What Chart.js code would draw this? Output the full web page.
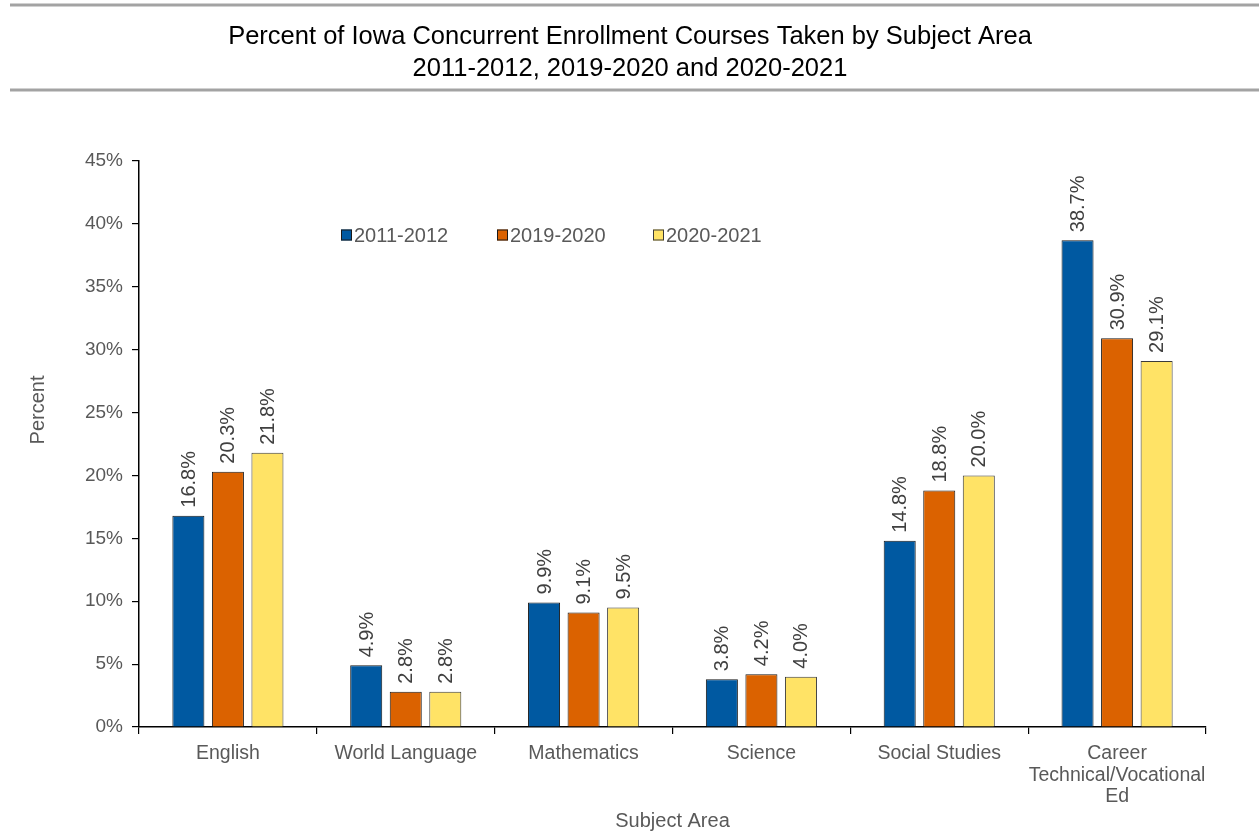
<!DOCTYPE html>
<html>
<head>
<meta charset="utf-8">
<script src="https://cdn.jsdelivr.net/npm/chart.js@4/dist/chart.umd.min.js"></script>
<style>
  html, body { margin: 0; padding: 0; background: #ffffff; }
  #wrap { width: 1259px; height: 835px; }
</style>
</head>
<body>
<div id="wrap"><canvas id="c" width="1259" height="835"></canvas></div>
<script>
const categories = ["English", "World Language", "Mathematics", "Science", "Social Studies", ["Career", "Technical/Vocational", "Ed"]];
const seriesNames = ["2011-2012", "2019-2020", "2020-2021"];
const values2011 = [16.8, 4.9, 9.9, 3.8, 14.8, 38.7];
const values2019 = [20.3, 2.8, 9.1, 4.2, 18.8, 30.9];
const values2020 = [21.8, 2.8, 9.5, 4.0, 20.0, 29.1];
const titleLines = ["Percent of Iowa Concurrent Enrollment Courses Taken by Subject Area", "2011-2012, 2019-2020 and 2020-2021"];
const yAxisTitle = "Percent";
const xAxisTitle = "Subject Area";

const FONT = '"Liberation Sans", Arial, Helvetica, sans-serif';
const colors = ["#0059A1", "#DB6200", "#FFE366"];
const borders = ["#1a1a1a", "#1a1a1a", "#3a3a3a"];

const decorPlugin = {
  id: 'decor',
  afterDatasetsDraw(chart) {
    const ctx = chart.ctx;
    ctx.save();
    ctx.fillStyle = '#404040';
    ctx.font = '20px ' + FONT;
    ctx.textAlign = 'left';
    ctx.textBaseline = 'middle';
    chart.data.datasets.forEach((ds, di) => {
      const meta = chart.getDatasetMeta(di);
      meta.data.forEach((bar, i) => {
        const txt = ds.data[i].toFixed(1) + '%';
        ctx.save();
        ctx.translate(bar.x + 1, bar.y - 8);
        ctx.rotate(-Math.PI / 2);
        ctx.fillText(txt, 0, 0);
        ctx.restore();
      });
    });
    ctx.restore();
  },
  afterDraw(chart) {
    const ctx = chart.ctx;
    const area = chart.chartArea;
    ctx.save();
    // top rules
    ctx.strokeStyle = '#a3a3a3';
    ctx.lineWidth = 3;
    ctx.beginPath();
    ctx.moveTo(10, 5); ctx.lineTo(1259, 5);
    ctx.moveTo(10, 90); ctx.lineTo(1259, 90);
    ctx.stroke();
    // title
    ctx.fillStyle = '#000000';
    ctx.font = '25.5px ' + FONT;
    ctx.textAlign = 'center';
    ctx.textBaseline = 'middle';
    ctx.fillText(titleLines[0], 630, 37);
    ctx.fillText(titleLines[1], 630, 69);
    // axis titles
    ctx.fillStyle = '#595959';
    ctx.font = '20px ' + FONT;
    ctx.fillText(xAxisTitle, (area.left + area.right) / 2, 821);
    ctx.save();
    ctx.translate(38, 410);
    ctx.rotate(-Math.PI / 2);
    ctx.fillText(yAxisTitle, 0, 0);
    ctx.restore();
    // legend
    const legendX = [341, 497, 653];
    const legendY = 235;
    ctx.textAlign = 'left';
    ctx.font = '20px ' + FONT;
    chart.data.datasets.forEach((ds, di) => {
      const x = legendX[di];
      ctx.fillStyle = ds.backgroundColor;
      ctx.fillRect(x, legendY - 5.5, 11, 11);
      ctx.strokeStyle = ds.borderColor;
      ctx.lineWidth = 1;
      ctx.strokeRect(x + 0.5, legendY - 5, 10, 10);
      ctx.fillStyle = '#595959';
      ctx.fillText(ds.label, x + 13, legendY + 1);
    });
    ctx.restore();
  }
};

const datasets = [values2011, values2019, values2020].map((vals, i) => ({
  label: seriesNames[i],
  data: vals,
  backgroundColor: colors[i],
  borderColor: borders[i],
  borderWidth: 1,
  categoryPercentage: 0.667,
  barPercentage: 0.81
}));

new Chart(document.getElementById('c'), {
  type: 'bar',
  data: { labels: categories, datasets: datasets },
  plugins: [decorPlugin],
  options: {
    responsive: false,
    animation: false,
    devicePixelRatio: 1,
    layout: { padding: { top: 161, right: 53, left: 0, bottom: 0 } },
    plugins: {
      legend: { display: false },
      title: { display: false },
      tooltip: { enabled: false }
    },
    scales: {
      x: {
        grid: { offset: true, drawOnChartArea: false, drawTicks: true, tickLength: 7, color: '#000000', lineWidth: 1.2 },
        border: { display: true, color: '#000000', width: 1.5 },
        ticks: { color: '#595959', font: { family: FONT, size: 19.5, lineHeight: 1.1 }, padding: 9, maxRotation: 0, autoSkip: false },
        afterFit(scale) { scale.height = 108; }
      },
      y: {
        min: 0, max: 45,
        grid: { drawOnChartArea: false, drawTicks: true, tickLength: 7, color: '#000000', lineWidth: 1.2 },
        border: { display: true, color: '#000000', width: 1.5 },
        ticks: { stepSize: 5, color: '#595959', font: { family: FONT, size: 19 }, padding: 9, callback: v => v + '%' },
        afterFit(scale) { scale.width = 139; }
      }
    }
  }
});
</script>
</body>
</html>
